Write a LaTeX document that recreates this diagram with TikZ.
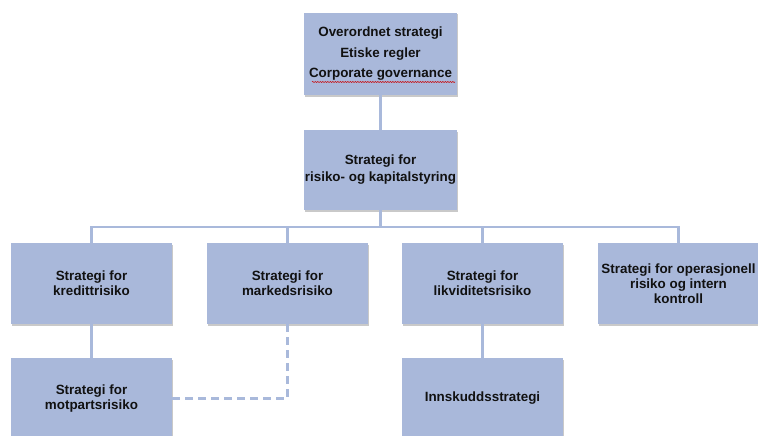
\documentclass[tikz,border=0pt]{standalone}
\usepackage{fontspec}
\setmainfont{Liberation Sans}
\usetikzlibrary{shadows,decorations.pathmorphing}
\definecolor{boxfill}{HTML}{A9B8DA}
\definecolor{linec}{HTML}{A9B9DB}
\definecolor{txt}{HTML}{111111}
\begin{document}
\begin{tikzpicture}[x=1pt,y=-1pt,
  box/.style={fill=boxfill, minimum width=161pt, minimum height=81pt, inner sep=0pt,
    align=center, text=txt, font=\bfseries\fontsize{13.4}{15}\selectfont,
    drop shadow={shadow xshift=1pt, shadow yshift=-1.5pt, opacity=0.3, fill=black!70}},
  conn/.style={draw=linec, line width=2.2pt},
  dconn/.style={conn, dash pattern=on 8pt off 5pt},
]
\useasboundingbox (0,0) rectangle (758,436);
\begin{scope}
\clip (0,0) rectangle (758,436);
\node[box, minimum width=153pt, minimum height=82pt, font=\bfseries\fontsize{13.4}{20.5}\selectfont] (top) at (380.5,54)
  {Overordnet strategi\\Etiske regler\\Corporate governance};
\node[box, minimum width=153pt, minimum height=80pt, font=\bfseries\fontsize{13.4}{17}\selectfont] (mid) at (380.5,170)
  {Strategi for\\risiko- og kapitalstyring};
\node[box] (kred) at (91.5,283.5) {Strategi for\\kredittrisiko};
\node[box] (mark) at (287.5,283.5) {Strategi for\\markedsrisiko};
\node[box] (likv) at (482.5,283.5) {Strategi for\\likviditetsrisiko};
\node[box] (oper) at (678.5,283.5) {Strategi for operasjonell\\risiko og intern\\kontroll};
\node[box] (motp) at (91.5,398.5) {Strategi for\\motpartsrisiko};
\node[box] (innsk) at (482.5,398.5) {Innskuddsstrategi};
\coordinate (bus) at ([yshift=-17pt]mid.south);
\draw[conn] (top) -- (mid);
\draw[conn] (mid.south) -- (bus) -| (kred.north);
\draw[conn] (bus) -| (mark.north);
\draw[conn] (bus) -| (likv.north);
\draw[conn] (bus) -| (oper.north);
\draw[conn] (kred) -- (motp);
\draw[conn] (likv) -- (innsk);
\draw[dconn] (mark.south) |- (motp.east);
\draw[red!80!black, line width=0.5pt, decorate, decoration={snake, amplitude=0.6pt, segment length=2.5pt}]
  (312,82) -- (455,82);
\end{scope}
\end{tikzpicture}
\end{document}
